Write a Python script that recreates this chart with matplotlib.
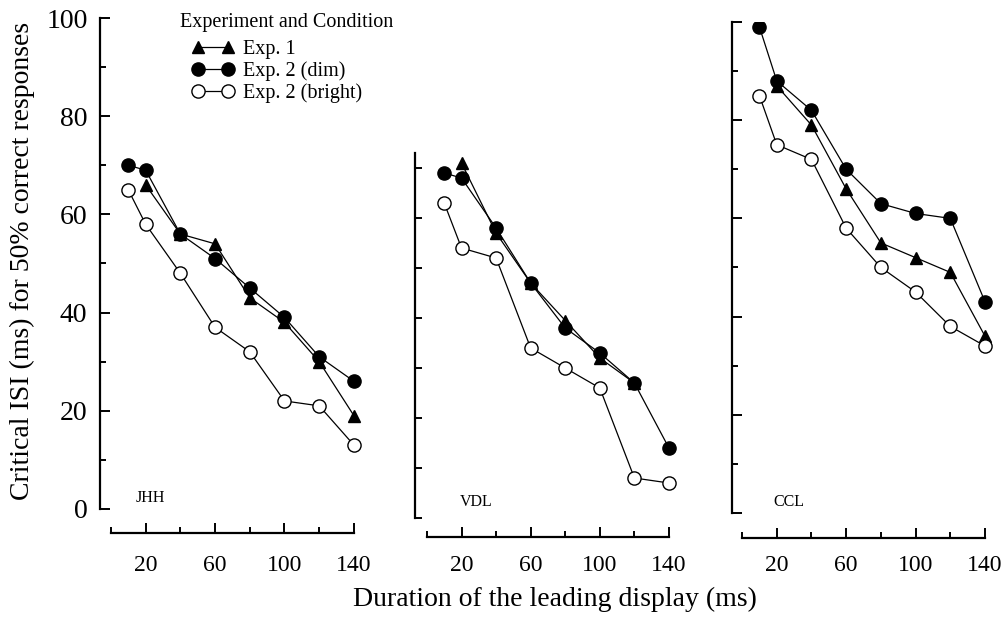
import matplotlib.pyplot as plt
from matplotlib.ticker import FixedLocator

plt.rcParams['font.family'] = ['Liberation Serif', 'DejaVu Serif']

# data (critical ISI in ms)
durations = [10, 20, 40, 60, 80, 100, 120, 140]
exp1_durations = [20, 40, 60, 80, 100, 120, 140]
vdl_exp1_durations = [20, 40, 60, 80, 100, 120]

jhh_exp1 = [66, 56, 54, 43, 38, 30, 19]
jhh_dim = [70, 69, 56, 51, 45, 39, 31, 26]
jhh_bright = [65, 58, 48, 37, 32, 22, 21, 13]

vdl_exp1 = [71, 57, 47, 39.5, 32, 27]
vdl_dim = [69, 68, 58, 47, 38, 33, 27, 14]
vdl_bright = [63, 54, 52, 34, 30, 26, 8, 7]

ccl_exp1 = [87, 79, 66, 55, 52, 49, 36]
ccl_dim = [99, 88, 82, 70, 63, 61, 60, 43]
ccl_bright = [85, 75, 72, 58, 50, 45, 38, 34]

subjects = ['JHH', 'VDL', 'CCL']
legend_labels = ['Exp. 1', 'Exp. 2 (dim)', 'Exp. 2 (bright)']

W, H = 1007, 620
fig = plt.figure(figsize=(W / 100, H / 100), dpi=100)


def px_axes(left, top, right, bottom):
    return fig.add_axes([left / W, 1 - bottom / H, (right - left) / W, (bottom - top) / H])


# (left, top, right, bottom) in pixels, xlim, ylim, top of y spine, label pos
panels = [
    dict(box=(100, 18, 362.6, 533), xlim=(-6.3, 145), ylim=(-4.9, 100), ytop=100, xpad=16,
         lab=(14, 2.2), exp1=(exp1_durations, jhh_exp1), dim=jhh_dim, bright=jhh_bright),
    dict(box=(415, 18, 677.6, 537), xlim=(-6.9, 145), ylim=(-3.8, 100), ytop=73, xpad=13,
         lab=(19, 3.2), exp1=(vdl_exp1_durations, vdl_exp1), dim=vdl_dim, bright=vdl_bright),
    dict(box=(732, 22, 993.7, 538), xlim=(-5.8, 145), ylim=(-5.1, 100), ytop=100, xpad=12.5,
         lab=(18, 2.2), exp1=(exp1_durations, ccl_exp1), dim=ccl_dim, bright=ccl_bright),
]

line_kw = dict(color='black', lw=0.9)
handles = None
for i, p in enumerate(panels):
    ax = px_axes(*p['box'])
    h1, = ax.plot(p['exp1'][0], p['exp1'][1], marker='^', ms=8, mfc='black',
                  mec='black', **line_kw)
    h2, = ax.plot(durations, p['dim'], marker='o', ms=9.5, mfc='black',
                  mec='black', **line_kw)
    h3, = ax.plot(durations, p['bright'], marker='o', ms=9.5, mfc='white',
                  mec='black', mew=1, **line_kw)
    if handles is None:
        handles = [h1, h2, h3]

    ax.set_xlim(*p['xlim'])
    ax.set_ylim(*p['ylim'])
    for s in ['top', 'right']:
        ax.spines[s].set_visible(False)
    ax.spines['left'].set_bounds(0, p['ytop'])
    ax.spines['bottom'].set_bounds(0, 140)
    ax.spines['left'].set_linewidth(1.6)
    ax.spines['bottom'].set_linewidth(1.6)

    ax.xaxis.set_major_locator(FixedLocator([20, 60, 100, 140]))
    ax.xaxis.set_minor_locator(FixedLocator([0, 40, 80, 120]))
    ax.tick_params(axis='x', which='major', direction='in', length=7, width=1.4,
                   labelsize=17, pad=p['xpad'])
    ax.tick_params(axis='x', which='minor', direction='in', length=4.5, width=1.4)

    if i == 1:
        ax.yaxis.set_major_locator(FixedLocator(range(0, 71, 10)))
        ax.tick_params(axis='y', which='major', direction='in', length=5, width=1.4,
                       labelleft=False)
    else:
        ax.yaxis.set_major_locator(FixedLocator(range(0, 101, 20)))
        ax.yaxis.set_minor_locator(FixedLocator(range(10, 100, 20)))
        ax.tick_params(axis='y', which='major', direction='in', length=7, width=1.4,
                       labelsize=20, pad=9, labelleft=(i == 0))
        ax.tick_params(axis='y', which='minor', direction='in', length=4.5, width=1.4)

    ax.text(p['lab'][0], p['lab'][1], subjects[i], fontsize=11.5, va='center', ha='left')

fig.text(180 / W, 1 - 22 / H, 'Experiment and Condition', fontsize=14.5, va='center')
fig.legend(handles, legend_labels, loc='upper left', bbox_to_anchor=(192 / W, 1 - 40 / H),
           bbox_transform=fig.transFigure, frameon=False, numpoints=2, fontsize=14.5,
           handlelength=2.1, handletextpad=0.45, labelspacing=0.1, borderpad=0,
           borderaxespad=0)

fig.text(22 / W, 1 - 261 / H, 'Critical ISI (ms) for 50% correct responses', rotation=90,
         fontsize=20, va='center', ha='center')
fig.text(555 / W, 1 - 599 / H, 'Duration of the leading display (ms)', fontsize=20,
         va='center', ha='center')

fig.savefig('out.png', dpi=100)
